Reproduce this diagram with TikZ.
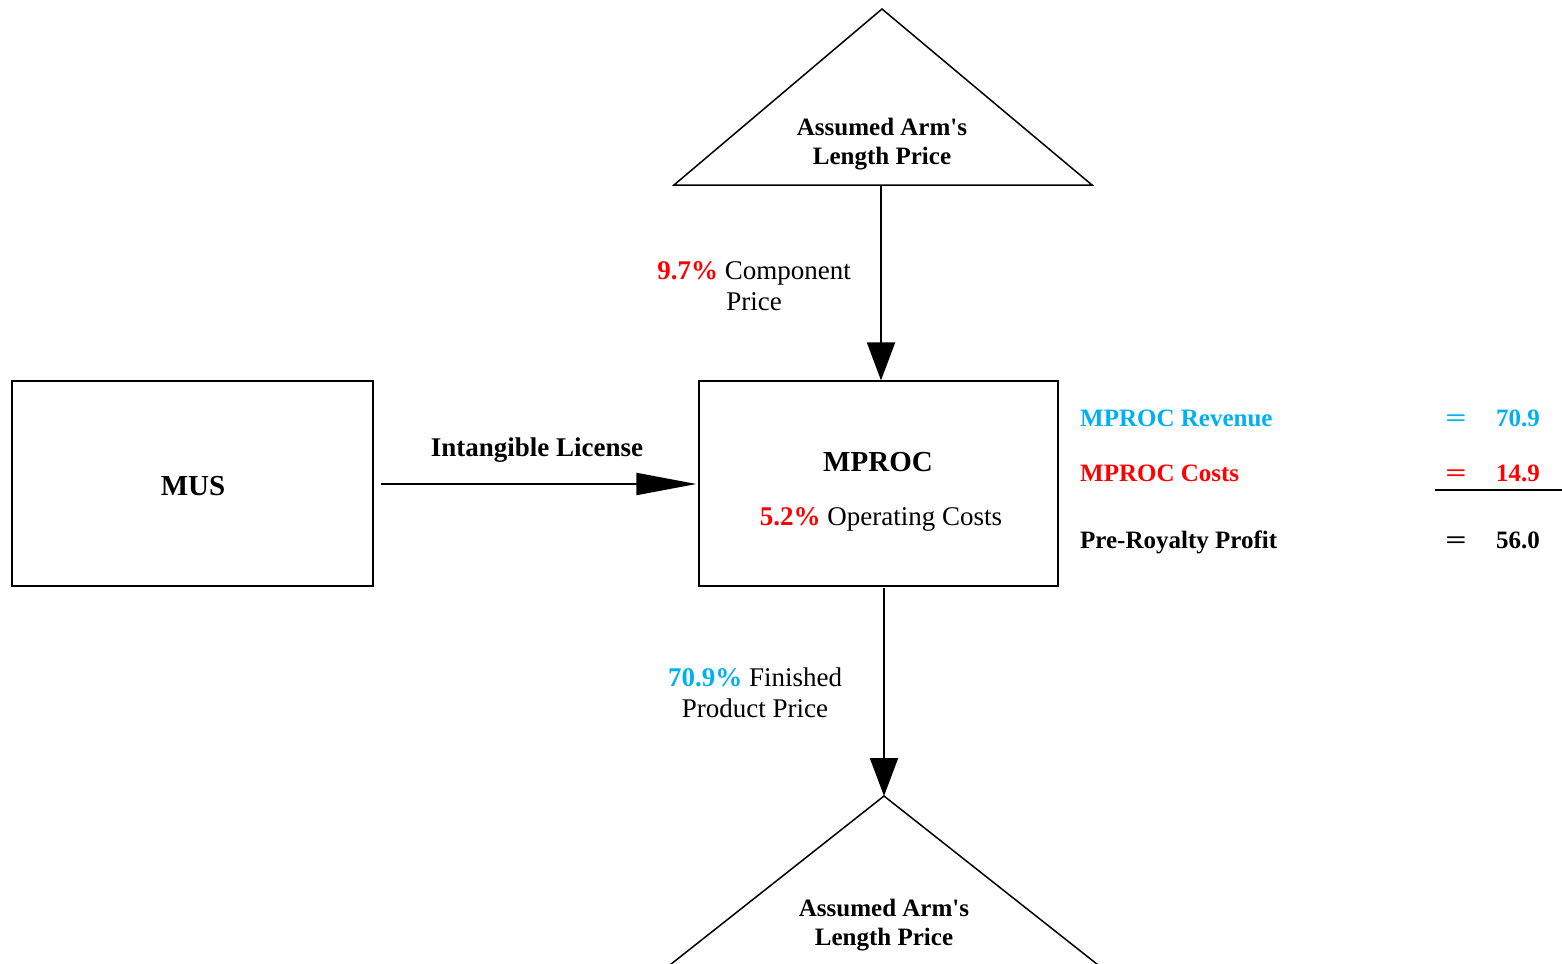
\documentclass[tikz,border=0pt]{standalone}
\usepackage{fontspec}
\usepackage{graphicx}
\setmainfont{Liberation Serif}
\usetikzlibrary{arrows.meta}
\definecolor{cyanx}{HTML}{00B0F0}
\definecolor{redx}{HTML}{FF0000}
\newcommand{\wideeq}{\scalebox{1.5}[1]{=}}
\tikzset{
 boxnode/.style={draw,line width=1.2pt,inner sep=0pt,minimum height=205pt},
 bigfont/.style={font=\fontsize{29}{33}\selectfont\bfseries},
 lblfont/.style={font=\fontsize{27}{31}\selectfont},
 lblbold/.style={font=\fontsize{27}{31}\selectfont\bfseries},
 smallbold/.style={font=\fontsize{25}{29}\selectfont\bfseries},
 flow/.style={line width=2pt,-{Triangle[length=38pt,width=28pt]}},
 hflow/.style={line width=2pt,-{Triangle[length=60pt,width=22pt]}},
 tri/.style={line width=1.5pt,line join=miter},
}
\begin{document}
\begin{tikzpicture}[x=1pt,y=-1pt]
\useasboundingbox (0,0) rectangle (1562,963);
\clip (0,0) rectangle (1562,963);
% boxes
\node[boxnode,minimum width=361pt] (mus) at (192.5,483.5) {};
\node[bigfont] (muslbl) at (193,486) {MUS};
\node[boxnode,minimum width=359pt] (mproc) at (878.5,483.5) {};
\node[bigfont] (mproclbl) at (878,462) {MPROC};
\node[lblfont] (opc) at (881,519) {\textcolor{redx}{\textbf{5.2\%}} Operating Costs};
% top triangle
\coordinate (t1a) at (882,9);
\coordinate (t1l) at (674,185);
\coordinate (t1r) at (1092,185);
\draw[tri] (t1l) -- (t1a) -- (t1r) -- cycle;
\node[smallbold,align=center] (t1txt) at (882,144) {Assumed Arm\textquotesingle s\\Length Price};
\coordinate (t1b) at (881,185);
\draw[flow] (t1b) -- (t1b |- mproc.north);
\node[lblfont,align=center] (cplbl) at (754,286) {\textcolor{redx}{\textbf{9.7\%}} Component\\Price};
% horizontal arrow
\draw[hflow] ([xshift=7pt,yshift=-0.5pt]mus.east) -- ([xshift=-2pt,yshift=-0.5pt]mproc.west);
\node[lblbold] (illbl) at (537,450) {Intangible License};
% bottom triangle
\coordinate (t2a) at (884,796);
\coordinate (t2l) at (661,972);
\coordinate (t2r) at (1107,972);
\draw[tri] (t2l) -- (t2a) -- (t2r);
\node[smallbold,align=center] (t2txt) at (884,925) {Assumed Arm\textquotesingle s\\Length Price};
\coordinate (b1) at (884,588);
\draw[flow] (b1) -- (t2a);
\node[lblfont,align=center] (fplbl) at (755,693) {\textcolor{cyanx}{\textbf{70.9\%}} Finished\\Product Price};
% right table
\node[smallbold,text=cyanx,anchor=base west,inner sep=0pt] (revl) at (1080,426) {MPROC Revenue};
\node[smallbold,text=cyanx,anchor=base,inner sep=0pt] (reve) at (1456,426) {\wideeq};
\node[smallbold,text=cyanx,anchor=base west,inner sep=0pt] (revv) at (1496,426) {70.9};
\node[smallbold,text=redx,anchor=base west,inner sep=0pt] (costl) at (1080,481) {MPROC Costs};
\node[smallbold,text=redx,anchor=base,inner sep=0pt] (coste) at (1456,481) {\wideeq};
\node[smallbold,text=redx,anchor=base west,inner sep=0pt] (costv) at (1496,481) {14.9};
\coordinate (ul1) at (1435,490);
\coordinate (ul2) at (1562,490);
\draw[line width=1.2pt] (ul1) -- (ul2);
\node[smallbold,anchor=base west,inner sep=0pt] (profl) at (1080,548) {Pre-Royalty Profit};
\node[smallbold,anchor=base,inner sep=0pt] (profe) at (1456,548) {\wideeq};
\node[smallbold,anchor=base west,inner sep=0pt] (profv) at (1496,548) {56.0};
\end{tikzpicture}
\end{document}
